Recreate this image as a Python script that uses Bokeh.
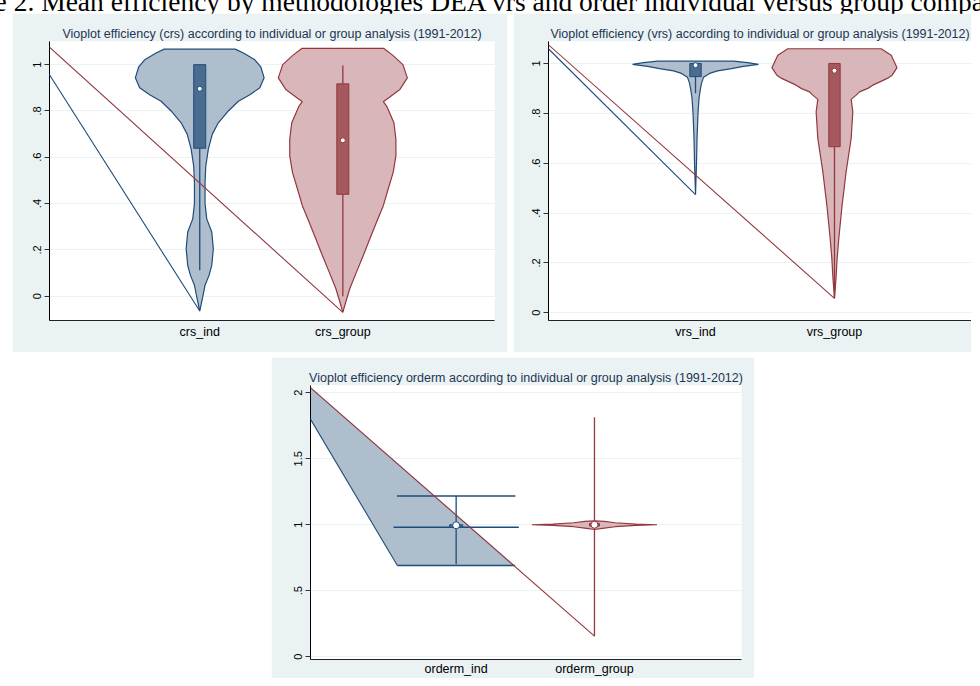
import numpy as np
from bokeh.plotting import figure
from bokeh.layouts import column, row
from bokeh.models import Range1d, FixedTicker, Div, Spacer, Arrow, PolyAnnotation
from bokeh.embed import file_html
from bokeh.resources import INLINE

# ---------------- data ----------------
heading = "Figure 2. Mean efficiency by methodologies DEA vrs and order individual versus group comparison"
title_crs = "Vioplot efficiency (crs) according to individual or group analysis (1991-2012)"
title_vrs = "Vioplot efficiency (vrs) according to individual or group analysis (1991-2012)"
title_ord = "Vioplot efficiency orderm according to individual or group analysis (1991-2012)"

crs_labels = ["crs_ind", "crs_group"]
vrs_labels = ["vrs_ind", "vrs_group"]
ord_labels = ["orderm_ind", "orderm_group"]

y_ticks_01 = [0, 0.2, 0.4, 0.6, 0.8, 1.0]
y_tick_labels_01 = ["0", ".2", ".4", ".6", ".8", "1"]
y_ticks_ord = [0, 0.5, 1.0, 1.5, 2.0]
y_tick_labels_ord = ["0", ".5", "1", "1.5", "2"]

# violin outlines: efficiency value grid and half-width (density)
crs_ind_val = [1.067, 1.05, 1.021, 0.99, 0.943, 0.9, 0.87, 0.842, 0.8, 0.749, 0.7, 0.635, 0.56,
               0.49, 0.4, 0.334, 0.277, 0.205, 0.133, 0.09, 0.047, -0.024, -0.064]
crs_ind_dens = [0.248, 0.305, 0.385, 0.427, 0.45, 0.42, 0.35, 0.27, 0.2, 0.13, 0.088, 0.06, 0.042,
                0.037, 0.037, 0.049, 0.084, 0.095, 0.084, 0.065, 0.037, 0.014, 0.0]
crs_group_val = [1.07, 1.04, 1.0, 0.943, 0.893, 0.84, 0.821, 0.749, 0.678, 0.606, 0.535, 0.463,
                 0.391, 0.32, 0.248, 0.176, 0.105, 0.033, -0.024, -0.07]
crs_group_dens = [0.287, 0.35, 0.42, 0.451, 0.399, 0.283, 0.306, 0.357, 0.371, 0.371, 0.352, 0.317,
                  0.283, 0.236, 0.189, 0.143, 0.096, 0.049, 0.021, 0.0]
vrs_ind_val = [1.009, 1.003, 0.996, 0.988, 0.979, 0.97, 0.96, 0.945, 0.92, 0.9, 0.86, 0.8, 0.7, 0.6, 0.474]
vrs_ind_dens = [0.273, 0.374, 0.453, 0.345, 0.259, 0.158, 0.101, 0.058, 0.043, 0.036, 0.025, 0.018,
                0.011, 0.007, 0.0]
vrs_group_val = [1.059, 1.033, 0.983, 0.953, 0.94, 0.913, 0.9, 0.886, 0.873, 0.856, 0.806, 0.699,
                 0.566, 0.432, 0.298, 0.218, 0.138, 0.058]
vrs_group_dens = [0.336, 0.408, 0.45, 0.415, 0.38, 0.276, 0.24, 0.18, 0.156, 0.12, 0.132, 0.12,
                  0.084, 0.055, 0.031, 0.019, 0.011, 0.0]
ord_ind_val = [0.691, 0.981, 1.218]          # spikes of the orderm_ind violin
ord_ind_dens = [0.425, 0.453, 0.428]
ord_group_val = [0.964, 0.975, 0.985, 0.995, 1.0, 1.005, 1.015, 1.025, 1.03]
ord_group_dens = [0.0, 0.07, 0.15, 0.3, 0.452, 0.3, 0.15, 0.07, 0.0]

# box plot summaries: [whisker low, q1, median, q3, whisker high]
crs_ind_box = [0.112, 0.639, 0.896, 1.0, 1.0]
crs_group_box = [0.0, 0.44, 0.673, 0.917, 0.996]
vrs_ind_box = [0.88, 0.947, 0.993, 1.0, 1.0]
vrs_group_box = [0.058, 0.666, 0.971, 1.0, 1.0]
ord_ind_box = [0.70, 0.981, 0.996, 1.0, 1.218]
ord_group_box = [0.156, 0.99, 1.0, 1.01, 1.815]

# stray connecting lines (start point of the polygons)
crs_start = (-0.338, 1.236)
vrs_start = (-0.338, 1.213)
ord_start = (-0.335, 2.297)

# ---------------- styles ----------------
BG = "#EAF2F3"
GRID = "#EAF2F3"
NAVY = "#1F4C79"
NAVY_FILL = "#AFBECD"
NAVY_BOX = "#4A6C8E"
MAROON = "#93383E"
MAROON_FILL = "#D8B6B9"
MAROON_BOX = "#A5585D"
TITLE_C = "#1E3553"
FONT = "Liberation Sans"


def make_fig(w, h, xr, yr, bl, br, bt, bb, yt, ytl, xl, ttl, xstand):
    p = figure(width=w, height=h, x_range=Range1d(*xr), y_range=Range1d(*yr),
               output_backend="svg", toolbar_location=None,
               min_border_left=bl, min_border_right=br, min_border_top=bt, min_border_bottom=bb)
    p.border_fill_color = BG
    p.background_fill_color = "white"
    p.outline_line_color = None
    p.title.text = ttl
    p.title.align = "center"
    p.title.text_font = FONT
    p.title.text_font_size = "12.5px"
    p.title.text_font_style = "normal"
    p.title.text_color = TITLE_C
    p.title.standoff = 2
    p.xgrid.visible = False
    p.ygrid.ticker = FixedTicker(ticks=yt)
    p.ygrid.grid_line_color = GRID
    p.ygrid.grid_line_width = 1.2
    ya = p.yaxis[0]
    ya.ticker = FixedTicker(ticks=yt)
    ya.major_label_overrides = {t: s for t, s in zip(yt, ytl)}
    ya.major_label_orientation = "vertical"
    ya.major_label_text_font = FONT
    ya.major_label_text_font_size = "11px"
    ya.major_label_text_color = "black"
    ya.axis_line_color = "black"
    ya.major_tick_line_color = "#333333"
    ya.major_tick_out = 5
    ya.major_tick_in = 0
    ya.minor_tick_line_color = None
    ya.major_label_standoff = 3
    xa = p.xaxis[0]
    xa.ticker = FixedTicker(ticks=[1, 2])
    xa.major_label_overrides = {1: xl[0], 2: xl[1]}
    xa.major_label_text_font = FONT
    xa.major_label_text_font_size = "12.5px"
    xa.major_label_text_color = "black"
    xa.axis_line_color = "#222222"
    xa.axis_line_width = 1.2
    xa.major_tick_line_color = None
    xa.major_tick_out = 0
    xa.major_tick_in = 0
    xa.minor_tick_line_color = None
    xa.major_label_standoff = xstand
    return p


def violin(p, c, vals, dens, fill, line):
    v = np.array(vals, dtype=float)
    d = np.array(dens, dtype=float)
    idx = np.argsort(v)
    v, d = v[idx], d[idx]
    xs = list(c - d) + list((c + d)[::-1])
    ys = list(v) + list(v[::-1])
    p.patch(xs, ys, fill_color=fill, line_color=line, line_width=1.2)


def boxplot(p, c, stats, bw, fill, line, dot=5):
    lo, q1, med, q3, hi = stats
    p.segment(x0=[c, c], y0=[lo, q3], x1=[c, c], y1=[q1, hi], line_color=line, line_width=1.3)
    p.quad(left=[c - bw / 2], right=[c + bw / 2], bottom=[q1], top=[q3],
           fill_color=fill, line_color=line, line_width=1)
    p.scatter([c], [med], size=dot, fill_color="white", line_color=line, line_width=1)


def stray(p, start, end, color):
    p.add_layout(Arrow(end=None, x_start=start[0], y_start=start[1], x_end=end[0], y_end=end[1],
                       line_color=color, line_width=1.1))


# ---------------- panel 1 (crs) ----------------
p1 = make_fig(495, 339, (-0.05, 3.06), (-0.105, 1.10), 37, 13, 27, 32,
              y_ticks_01, y_tick_labels_01, crs_labels, title_crs, 4)
violin(p1, 1, crs_ind_val, crs_ind_dens, NAVY_FILL, NAVY)
violin(p1, 2, crs_group_val, crs_group_dens, MAROON_FILL, MAROON)
boxplot(p1, 1, crs_ind_box, 0.084, NAVY_BOX, NAVY)
boxplot(p1, 2, crs_group_box, 0.084, MAROON_BOX, MAROON)
stray(p1, crs_start, (1, min(crs_ind_val)), NAVY)
stray(p1, crs_start, (2, min(crs_group_val)), MAROON)

# ---------------- panel 2 (vrs) ----------------
p2 = make_fig(458, 339, (-0.058, 2.986), (-0.031, 1.088), 35, 0, 28, 32,
              y_ticks_01, y_tick_labels_01, vrs_labels, title_vrs, 4)
violin(p2, 1, vrs_ind_val, vrs_ind_dens, NAVY_FILL, NAVY)
violin(p2, 2, vrs_group_val, vrs_group_dens, MAROON_FILL, MAROON)
boxplot(p2, 1, vrs_ind_box, 0.082, NAVY_BOX, NAVY)
boxplot(p2, 2, vrs_group_box, 0.082, MAROON_BOX, MAROON)
stray(p2, vrs_start, (1, min(vrs_ind_val)), NAVY)
stray(p2, vrs_start, (2, min(vrs_group_val)), MAROON)

# ---------------- panel 3 (orderm) ----------------
p3 = make_fig(483, 321, (-0.053, 3.063), (-0.021, 2.055), 39, 13, 28, 16,
              y_ticks_ord, y_tick_labels_ord, ord_labels, title_ord, 2)
low_i = int(np.argmin(ord_ind_val))
tri_x = [ord_start[0], 1 - ord_ind_dens[low_i], 1 + ord_ind_dens[low_i]]
tri_y = [ord_start[1], ord_ind_val[low_i], ord_ind_val[low_i]]
p3.add_layout(PolyAnnotation(xs=tri_x, ys=tri_y, xs_units="data", ys_units="data",
                             fill_color=NAVY_FILL, fill_alpha=1.0, line_color=None, level="underlay"))
p3.segment(x0=[1 - d for d in ord_ind_dens], y0=ord_ind_val,
           x1=[1 + d for d in ord_ind_dens], y1=ord_ind_val, line_color=NAVY, line_width=1.6)
violin(p3, 2, ord_group_val, ord_group_dens, MAROON_FILL, MAROON)
boxplot(p3, 1, ord_ind_box, 0.094, NAVY_BOX, NAVY, dot=7)
boxplot(p3, 2, ord_group_box, 0.072, MAROON_BOX, MAROON, dot=7)
stray(p3, ord_start, (tri_x[1], tri_y[1]), NAVY)
stray(p3, ord_start, (2, ord_group_box[0]), MAROON)

# ---------------- page ----------------
head = Div(text=('<div style="position:relative; left:-70px; top:-19px; white-space:nowrap; '
                 'font-family:\'Liberation Serif\'; font-size:27.5px; line-height:32px; color:black;">'
                 + heading + '</div>'),
           width=964, height=3, styles={"overflow": "visible"})

layout = column(
    head,
    row(Spacer(width=12, height=339), p1, Spacer(width=6, height=339), p2),
    Spacer(width=10, height=5),
    row(Spacer(width=271, height=321), p3),
)

open("out.html", "w").write(file_html(layout, INLINE))
